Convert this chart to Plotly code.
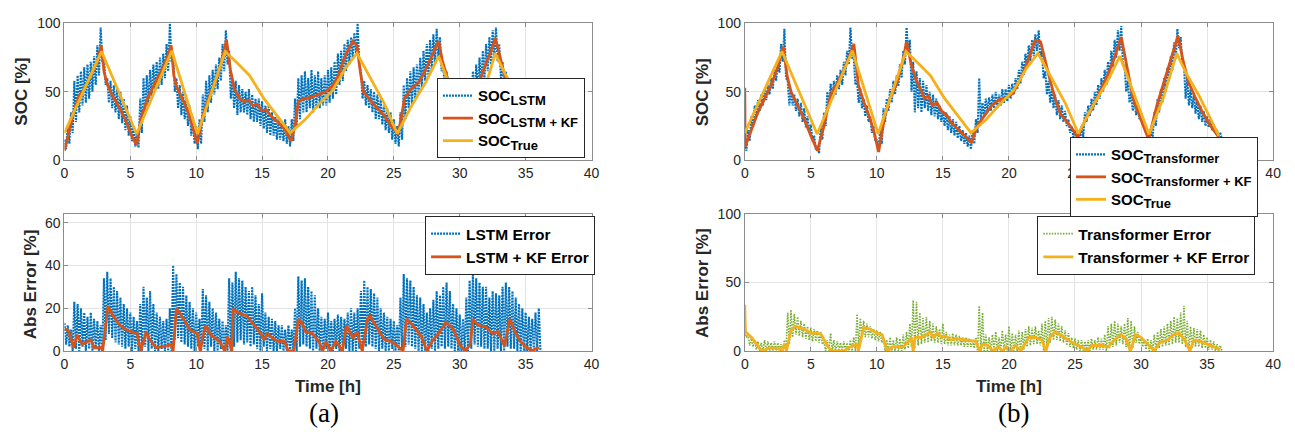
import plotly.graph_objects as go

# ---------------- data ----------------
STEP = 0.25  # sampling of the noisy network outputs [h]

# LSTM SOC prediction: upper / lower extent of noise at each 0.25 h sample
SOC_LSTM_HI = [15,25,35,58,62,65,68,70, 72,76,84,97,75,60,58,55, 52,50,45,40,32,25,20,45,
               60,62,66,70,72,75,78,85, 100,78,60,55,50,45,40,32, 25,30,48,58,62,66,70,75,
               85,95,80,60,58,55,52,50, 52,48,45,45,43,40,40,35, 32,30,28,30,25,30,45,60,
               62,65,60,66,62,65,60,62, 66,68,72,78,80,85,88,90, 93,100,65,58,55,52,50,48,
               45,40,38,35,30,25,35,55, 60,65,68,70,75,80,85,88, 92,96,90,70,65,60,55,48,
               40,30,40,55,65,70,75,80, 85,90,95,97,85,72,65,58, 52,48,44,40,36,32,28,25, 22]
SOC_LSTM_LO = [8,12,20,28,35,40,42,45, 50,55,62,72,55,42,38,35, 30,27,22,18,14,10,9,20,
               35,40,45,50,52,55,60,65, 72,50,38,33,30,25,18,12, 8,12,28,35,42,48,52,58,
               65,70,45,38,33,35,35,33, 30,28,28,25,23,20,18,18, 15,15,14,12,10,14,25,30,
               35,35,38,35,38,38,40,40, 42,45,48,55,58,65,70,75, 78,70,45,40,38,35,30,30,
               26,22,20,15,12,10,15,30, 38,40,44,48,52,58,62,65, 70,75,65,50,45,42,38,30,
               22,14,18,35,42,48,52,58, 65,70,75,72,60,52,45,40, 35,30,28,24,20,17,14,12, 10]

# LSTM + KF SOC
T_LSTM_KF = [0,0.3,0.7,1.1,1.5,2.0,2.5,2.79,3.0,3.2,3.6,4.2,4.7,5.1,5.47,5.8,6.3,6.8,7.4,7.8,8.1,
             8.3,8.5,9.0,9.4,9.8,10.08,10.5,11.0,11.5,12.0,12.3,12.6,12.9,13.3,13.6,14.0,14.3,14.6,
             15.0,15.3,15.7,16.2,16.7,17.0,17.2,17.5,17.76,18.2,18.7,19.3,19.8,20.4,20.8,21.1,21.5,
             21.9,22.2,22.45,22.7,23.2,23.75,24.3,24.8,25.3,25.55,25.8,26.3,26.9,27.4,27.9,28.4,
             28.7,29.1,29.6,30.0,30.4,30.8,31.3,31.8,32.3,32.7,33.0,33.4,33.9,34.5,35.0,35.5,36.0]
SOC_LSTM_KF = [7,20,35,47,52,62,72,84,65,57,48,38,28,18,11,30,45,55,66,75,84,
               62,54,44,35,22,12,32,47,58,75,88,66,52,45,43,44,40,41,
               36,37,32,28,23,18,14,25,43,45,46,48,50,55,62,71,80,
               87,84,65,50,44,38,32,25,19,30,45,52,57,66,77,87,
               72,59,45,30,18,35,52,66,78,89,78,62,48,38,30,22,17]

# True SOC (same reference in both panels)
T_TRUE = [0,2.82,5.48,8.14,10.1,12.2,12.9,14.05,15.1,16.15,17.13,18.25,19.25,20.35,21.35,22.2,
          23.17,24.25,25.25,26.3,27.42,28.4,29.25,30.6,31.7,32.7,33.45,34.4,35.9]
SOC_TRUE = [20,79.5,19.2,80,19.2,79.5,73,62,45.6,32,20,29.5,40.3,51,67.5,78.2,
            61.5,42,19.5,39,57,76,54,19,46,78.2,63,47,17.8]

# Transformer SOC prediction (noise extent)
SOC_TR_HI = [12,22,32,40,44,48,52,55, 60,66,72,85,96,58,52,48, 45,42,38,32,26,18,10,25,
             35,50,56,58,62,66,72,80, 97,75,58,52,45,40,32,25, 15,22,38,45,52,58,62,70,
             80,97,88,72,65,60,58,55, 50,48,45,40,36,35,32,30, 28,25,22,20,18,22,30,60,
             42,45,46,48,50,48,52,52, 55,56,60,66,72,78,84,88, 92,95,80,65,58,52,48,44,
             40,36,30,25,22,18,25,35, 40,45,50,55,60,66,72,80, 88,95,98,70,58,50,45,40,
             35,28,20,22,35,45,52,60, 68,76,86,96,90,70,60,52, 48,44,40,36,32,30,26,22, 20]
SOC_TR_LO = [7,14,24,32,36,40,44,48, 52,58,64,72,60,40,40,36, 32,28,24,20,14,8,5,15,
             25,38,45,48,52,55,62,70, 75,55,42,38,32,28,20,14, 6,12,28,36,42,48,54,60,
             70,78,50,35,38,35,38,36, 33,32,30,28,25,22,20,18, 16,14,12,10,8,12,20,28,
             32,35,36,38,38,40,42,43, 45,48,52,56,62,68,72,76, 80,75,60,48,42,38,33,30,
             28,25,20,17,15,14,17,28, 32,36,40,45,50,55,60,68, 75,80,70,50,42,36,33,30,
             26,20,15,15,25,35,42,50, 58,66,74,82,70,45,40,38, 34,30,28,25,24,22,20,18, 15]

# Transformer + KF SOC
T_TR_KF = [0,0.03,0.5,1.0,1.5,2.0,2.5,2.92,3.2,3.5,4.0,4.5,5.0,5.5,6.0,6.5,7.0,7.5,8.0,8.26,8.6,
           9.0,9.5,9.8,10.13,10.6,11.0,11.5,12.0,12.25,12.6,13.0,13.4,13.6,13.9,14.2,14.56,14.9,
           15.3,15.6,16.2,16.7,17.16,17.6,18.2,18.7,19.2,19.6,20.0,20.3,20.8,21.3,21.7,21.98,22.4,
           22.8,23.15,23.5,23.9,24.4,24.8,25.2,25.8,26.3,26.9,27.45,28.0,28.5,29.0,29.4,29.9,
           30.57,31.2,31.74,32.3,32.8,33.2,33.6,34.1,34.6,35.2,35.9]
SOC_TR_KF = [53,10,22,35,45,55,68,83,62,50,40,30,18,7,25,48,56,66,78,85,55,
             43,30,20,6,32,45,56,74,87,70,58,50,45,47,40,42,36,
             33,28,22,17,13,25,33,40,44,45,47,49,58,69,80,87.7,86.5,
             70,57,45,34,28,23,16.6,30,38,50,61.6,75,90,65,45,32,
             15.4,40,56.9,74,91,72,57,46,36,26,16.6]

# LSTM absolute error (noise extent)
ERR_LSTM_HI = [13,12,10,23,22,20,18,16, 18,15,14,12,34,37,34,30, 28,25,22,20,18,16,14,22,
               30,25,28,22,18,16,14,15, 20,40,36,32,30,26,23,20, 18,15,29,26,23,20,18,15,
               14,12,34,32,37,34,33,30, 28,30,26,22,27,18,16,15, 14,12,12,10,12,10,20,35,
               33,34,30,28,26,20,16,15, 18,14,15,17,16,15,18,20, 18,20,28,33,30,29,27,25,
               20,18,16,15,14,12,25,36, 34,33,30,26,25,22,18,20, 24,28,26,30,32,28,22,20,
               17,15,25,33,37,34,32,30, 30,25,28,27,26,30,32,30, 28,25,22,20,18,16,15,18, 20]
ERR_LSTM_LO = [3,2,0,1,0,2,0,1, 0,1,0,0,5,8,6,4, 3,2,1,2,0,1,0,0, 2,0,1,0,0,1,0,0,
               0,5,6,4,3,2,1,0, 2,0,1,0,2,0,0,1, 0,0,0,2,4,5,3,4, 2,3,1,0,2,0,1,0,
               0,1,0,0,0,0,0,2, 3,2,1,0,1,0,0,1, 0,0,1,0,0,1,0,0, 0,1,0,2,3,2,1,0,
               1,0,0,1,0,0,0,2, 3,2,1,0,0,0,0,1, 0,1,2,1,2,1,0,0, 0,0,0,1,3,2,2,1,
               1,0,0,1,0,0,2,1, 1,0,0,0,0,0,0,0, 0]

# LSTM + KF absolute error
T_ERR_LSTM_KF = [0,0.3,0.7,0.96,1.35,2.0,2.26,2.8,2.9,3.3,3.7,4.2,4.74,5.5,5.8,6.2,6.4,6.95,7.6,8.1,
                 8.25,8.5,8.9,9.55,10.08,10.3,10.7,11.1,11.77,12.16,12.4,12.7,12.8,13.2,13.85,14.4,
                 14.9,15.15,15.4,15.8,16.2,16.7,16.98,17.4,17.76,18.0,18.3,18.8,19.3,19.6,19.85,
                 20.2,20.6,21.1,21.4,21.9,22.2,22.6,23.0,23.2,23.6,24.3,24.8,25.3,25.7,25.96,
                 26.35,27.1,27.5,27.9,28.4,28.95,29.5,30.0,30.4,30.8,31.0,31.4,31.95,32.5,32.9,
                 33.4,33.8,34.2,34.6,35.1,35.5,35.9,36.0]
ERR_LSTM_KF = [10.4,9.7,1.5,7.5,3,5.2,1.5,1.5,0,20.9,16.4,12,9.7,8.2,0,9,6,1.5,2.2,3,
               0,20,16.4,9.7,8.2,0,12,7.5,4.5,0,6.7,0,19.4,17.9,16.4,12,
               8.2,5.2,8.2,6,4.5,4.5,0,0,15,13.4,9,8.2,4.5,0,4.5,
               0,4.5,0,12,6,9,0,15,16.4,12,5.2,4.5,2.2,0,15,
               12.7,6.7,0,4.5,8.2,13.4,10.4,3,0,3,15,12,11.2,8.2,9,
               2.2,15,9,4.5,1.5,0,1.5,1]

# Transformer absolute error (noise extent)
ERR_TR_HI = [14,12,9,8,7,6,8,7, 6,7,6,5,8,28,30,27, 25,22,20,18,17,16,15,14,
             6,8,13,8,7,6,7,6, 8,10,27,24,22,20,18,16, 15,14,9,8,10,8,10,9,
             12,14,20,37,36,28,24,25, 22,20,18,16,20,14,12,13, 12,11,10,10,9,8,10,33,
             28,12,10,12,14,10,15,12, 18,13,12,15,14,16,18,17, 18,15,20,22,24,25,23,20,
             18,15,13,10,9,8,8,7, 8,9,8,10,9,12,18,20, 22,20,18,20,24,22,18,14,
             10,8,9,8,12,14,16,18, 20,22,25,24,28,33,22,18, 17,16,15,12,10,8,7,5, 4]
ERR_TR_LO = [10,4,3,1,0,0,0,0, 0,0,0,0,0,5,10,12, 11,10,9,8,7,7,6,5,
             0,0,0,0,0,0,0,0, 0,0,3,10,10,10,9,8, 7,6,0,0,0,0,0,0,
             1,2,3,2,4,5,6,6, 7,6,6,5,5,4,4,4, 4,4,3,3,3,2,0,0,
             0,0,0,0,0,0,0,0, 0,0,0,0,1,3,4,5, 5,4,0,3,6,8,8,7,
             6,4,3,2,1,0,0,0, 0,1,1,1,1,0,2,3, 4,6,5,3,0,2,6,5,
             3,1,0,0,0,2,3,4, 4,5,6,6,5,3,0,2, 3,3,2,2,1,1,0,0, 0]

# Transformer + KF absolute error
T_ERR_TR_KF = [0,0.05,0.5,1.0,1.3,1.8,2.5,2.8,3.0,3.15,3.5,3.8,4.5,5.0,5.5,5.8,6.3,6.6,7.5,8.0,8.5,
               8.6,9.0,9.5,10.0,10.4,10.8,11.2,12.0,12.5,12.6,12.75,12.9,13.4,13.8,14.0,14.3,14.6,
               14.9,15.2,15.6,16.0,17.0,17.5,17.8,18.0,18.4,18.8,19.2,19.5,19.8,20.1,20.5,20.9,
               21.5,22.0,22.5,22.8,23.1,23.5,24.0,24.5,25.0,25.5,25.9,26.3,27.0,27.5,28.0,28.5,
               28.9,29.2,29.6,30.0,30.5,31.0,31.4,32.0,32.5,32.9,33.3,33.7,34.0,34.5,35.0,35.5,36.0]
ERR_TR_KF = [33.7,14,10,4,0,2,2,0,5,0,15,18,16,13,13,12,3,0,0,3,5,
             0,17,16,13,12,0,3,3,8,10,0,10,10,12,14,10,13,
             10,11,8,9,8,7,0,5,4,0,3,0,3,0,4,0,
             10,10,8,0,10,14,11,8,5,3,0,4,4,3,8,12,
             8,0,12,10,5,0,6,8,12,13,8,0,8,7,5,3,1]

# ---------------- styling ----------------
C_BLUE = "#0072BD"
C_ORANGE = "#D95319"
C_YELLOW = "#F4B11C"
C_GREEN = "#77AC30"
FRAME = "#8c8c8c"
FONT = "Liberation Sans, Arial, Helvetica, sans-serif"
NOISE_DASH = "2px,1px"
NOISE_W = 2.1


def zig(hi, lo):
    n = min(len(hi), len(lo))
    t, v = [], []
    for i in range(n):
        t += [i * STEP, i * STEP + STEP / 2]
        v += [hi[i], lo[i]]
    return t, v


def soc_name(sub):
    return 'SOC<sub><span style="font-size:13px">%s</span></sub>' % sub


fig = go.Figure()

# (a) top
t, v = zig(SOC_LSTM_HI, SOC_LSTM_LO)
fig.add_trace(go.Scatter(x=t, y=v, mode="lines", name=soc_name("LSTM"),
                         line=dict(color=C_BLUE, width=NOISE_W, dash=NOISE_DASH),
                         xaxis="x", yaxis="y", legend="legend"))
fig.add_trace(go.Scatter(x=T_LSTM_KF, y=SOC_LSTM_KF, mode="lines", name=soc_name("LSTM + KF"),
                         line=dict(color=C_ORANGE, width=2.8),
                         xaxis="x", yaxis="y", legend="legend"))
fig.add_trace(go.Scatter(x=T_TRUE, y=SOC_TRUE, mode="lines", name=soc_name("True"),
                         line=dict(color=C_YELLOW, width=2.8),
                         xaxis="x", yaxis="y", legend="legend"))
# (a) bottom
t, v = zig(ERR_LSTM_HI, ERR_LSTM_LO)
fig.add_trace(go.Scatter(x=t, y=v, mode="lines", name="LSTM Error",
                         line=dict(color=C_BLUE, width=NOISE_W, dash=NOISE_DASH),
                         xaxis="x2", yaxis="y2", legend="legend2"))
fig.add_trace(go.Scatter(x=T_ERR_LSTM_KF, y=ERR_LSTM_KF, mode="lines", name="LSTM + KF Error",
                         line=dict(color=C_ORANGE, width=2.8),
                         xaxis="x2", yaxis="y2", legend="legend2"))
# (b) top
t, v = zig(SOC_TR_HI, SOC_TR_LO)
fig.add_trace(go.Scatter(x=t, y=v, mode="lines", name=soc_name("Transformer"),
                         line=dict(color=C_BLUE, width=NOISE_W, dash=NOISE_DASH),
                         xaxis="x3", yaxis="y3", legend="legend3"))
fig.add_trace(go.Scatter(x=T_TR_KF, y=SOC_TR_KF, mode="lines", name=soc_name("Transformer + KF"),
                         line=dict(color=C_ORANGE, width=2.8),
                         xaxis="x3", yaxis="y3", legend="legend3"))
fig.add_trace(go.Scatter(x=T_TRUE, y=SOC_TRUE, mode="lines", name=soc_name("True"),
                         line=dict(color=C_YELLOW, width=2.8),
                         xaxis="x3", yaxis="y3", legend="legend3"))
# (b) bottom
t, v = zig(ERR_TR_HI, ERR_TR_LO)
fig.add_trace(go.Scatter(x=t, y=v, mode="lines", name="Transformer Error",
                         line=dict(color=C_GREEN, width=1.6, dash="1.5px,1.3px"),
                         xaxis="x4", yaxis="y4", legend="legend4"))
fig.add_trace(go.Scatter(x=T_ERR_TR_KF, y=ERR_TR_KF, mode="lines", name="Transformer + KF Error",
                         line=dict(color=C_YELLOW, width=2.8),
                         xaxis="x4", yaxis="y4", legend="legend4"))

W, H = 1295, 437
def px(x): return x / W
def py(y): return 1 - y / H

axis_common = dict(showline=True, mirror="ticks", linecolor=FRAME, linewidth=1,
                   ticks="inside", ticklen=4, tickcolor=FRAME,
                   showgrid=True, gridcolor="#e4e4e4", gridwidth=1, zeroline=False,
                   tickfont=dict(family=FONT, size=14, color="#262626"))

XL = [px(61), px(593)]
XR = [px(747.7), px(1281)]
YT = [py(158), py(16)]
YB = [py(356), py(214)]

fig.update_layout(
    width=W, height=H, margin=dict(l=0, r=0, t=0, b=0),
    paper_bgcolor="white", plot_bgcolor="white", showlegend=True,
    xaxis=dict(domain=XL, anchor="y", range=[0, 40], dtick=5, tick0=0, **axis_common),
    yaxis=dict(domain=YT, anchor="x", range=[0, 100], dtick=50, **axis_common),
    xaxis2=dict(domain=XL, anchor="y2", range=[0, 40], dtick=5, tick0=0, **axis_common),
    yaxis2=dict(domain=YB, anchor="x2", range=[0, 64], tickvals=[0, 20, 40, 60], **axis_common),
    xaxis3=dict(domain=XR, anchor="y3", range=[0, 40], dtick=5, tick0=0, **axis_common),
    yaxis3=dict(domain=YT, anchor="x3", range=[0, 100], dtick=50, **axis_common),
    xaxis4=dict(domain=XR, anchor="y4", range=[0, 40], dtick=5, tick0=0, **axis_common),
    yaxis4=dict(domain=YB, anchor="x4", range=[0, 100], dtick=50, **axis_common),
)

leg_common = dict(bgcolor="white", bordercolor="#262626", borderwidth=1,
                  xanchor="left", yanchor="top", itemwidth=30)
soc_font = dict(family=FONT, size=15, color="#000000", weight="bold")
err_font = dict(family=FONT, size=15.5, color="#000000", weight="bold")
fig.update_layout(
    legend=dict(x=px(437), y=py(73), font=soc_font, **leg_common),
    legend2=dict(x=px(425), y=py(216), font=err_font, **leg_common),
    legend3=dict(x=px(1076), y=py(134), font=soc_font, **leg_common),
    legend4=dict(x=px(1043), y=py(216), font=err_font, **leg_common),
)

lab = dict(family=FONT, size=17, color="#262626", weight="bold")
ann = []
ann.append(dict(text="SOC [%]", x=px(18), y=py(87), textangle=-90, font=lab))
ann.append(dict(text="SOC [%]", x=px(705), y=py(87), textangle=-90, font=lab))
ann.append(dict(text="Abs Error [%]", x=px(27), y=py(287), textangle=-90, font=lab))
ann.append(dict(text="Abs Error [%]", x=px(705), y=py(285), textangle=-90, font=lab))
ann.append(dict(text="Time [h]", x=px(327), y=py(393), font=lab))
ann.append(dict(text="Time [h]", x=px(1014), y=py(393), font=lab))
cap = dict(family="Liberation Serif, Times New Roman, serif", size=27, color="#000000")
ann.append(dict(text="(a)", x=px(323), y=py(420), font=cap))
ann.append(dict(text="(b)", x=px(1019), y=py(420), font=cap))
for a in ann:
    a.update(xref="paper", yref="paper", showarrow=False, xanchor="center", yanchor="middle")
fig.update_layout(annotations=ann)

fig.write_html("out.html")
